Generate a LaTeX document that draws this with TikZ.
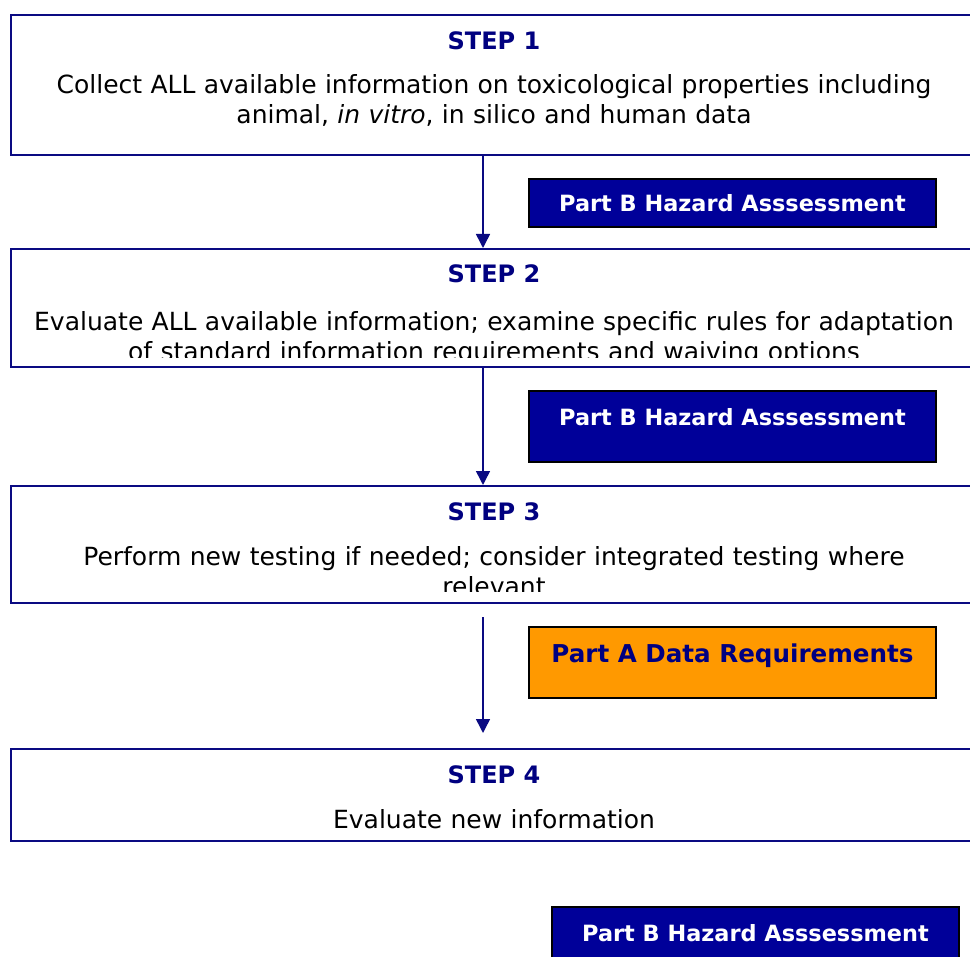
\documentclass[tikz,border=0pt]{standalone}
\usepackage{fontspec}
\setmainfont{DejaVu Sans}
\usetikzlibrary{%
        arrows.meta,
        positioning
    }
\definecolor{navyline}{RGB}{10, 10, 130}
\definecolor{stepblue}{RGB}{0, 0, 128}
\definecolor{hazardblue}{RGB}{0, 0, 153}
\definecolor{dataorange}{RGB}{255, 153, 0}
\tikzset{%
    stepbox/.style={draw=navyline, line width=1pt, fill=white,
        anchor=north west, minimum width=490pt, inner sep=0pt},
    steptitle/.style={anchor=base, text=stepblue,
        font=\fontsize{12}{15}\selectfont\bfseries},
    steptext/.style={anchor=base, align=center, text width=480pt,
        inner sep=0pt, font=\fontsize{12.5}{15}\selectfont},
    partbox/.style={draw=black, line width=1pt, anchor=north west,
        minimum width=203.5pt, inner sep=0pt},
    hazard/.style={partbox, fill=hazardblue, text=white,
        font=\fontsize{11.2}{13}\selectfont\bfseries},
    data/.style={partbox, fill=dataorange, text=stepblue,
        font=\fontsize{12.3}{14}\selectfont\bfseries},
    flow/.style={draw=navyline, line width=0.75pt,
        -{Triangle[width=7pt, length=7pt]}}
}

\begin{document}
\begin{tikzpicture}[x=0.5pt, y=-0.5pt]

    \useasboundingbox (0, 0) rectangle (970, 957);
    \clip (0, 0) rectangle (970, 957);

    % Step boxes
    \node[stepbox, minimum height=70pt] (step1) at (10, 14) {};
    \node[stepbox, minimum height=59pt] (step2) at (10, 248) {};
    \node[stepbox, minimum height=58.5pt] (step3) at (10, 485) {};
    \node[stepbox, minimum height=46pt] (step4) at (10, 748) {};

    % Step texts
    \node[steptitle] (title1) at (494, 50) {STEP 1};
    \node[steptext] (text1) at (494, 94)
        {Collect ALL available information on toxicological properties including\\
         animal, \textit{in vitro}, in silico and human data};

    \node[steptitle] (title2) at (494, 283) {STEP 2};
    \begin{scope}
        \clip (10, 250) rectangle (970, 358);
        \node[steptext] (text2) at (494, 331)
            {Evaluate ALL available information; examine specific rules for adaptation\\
             of standard information requirements and waiving options};
    \end{scope}

    \node[steptitle] (title3) at (494, 520) {STEP 3};
    \begin{scope}
        \clip (10, 487) rectangle (970, 591);
        \node[steptext] (text3) at (494, 565)
            {Perform new testing if needed; consider integrated testing where\\
             relevant};
    \end{scope}

    \node[steptitle] (title4) at (494, 783) {STEP 4};
    \node[steptext] (text4) at (494, 828) {Evaluate new information};

    % Part boxes
    \node[hazard, text height=16.5pt, text depth=7.5pt] (partb1) at (528, 178)
        {Part B Hazard Asssessment};
    \node[hazard, text height=17pt, text depth=18.5pt] (partb2) at (528, 390)
        {Part B Hazard Asssessment};
    \node[data, text height=17.5pt, text depth=18pt] (parta) at (528, 626)
        {Part A Data Requirements};
    \node[hazard, text height=17pt, text depth=18pt] (partb3) at (551, 906)
        {Part B Hazard Asssessment};

    % Flow
    \coordinate (spine) at (483, 0);
    \coordinate (gapstart) at (483, 617);
    \coordinate (gapend) at (483, 733);
    \draw[flow] (step1.south -| spine) -- (step2.north -| spine);
    \draw[flow] (step2.south -| spine) -- (step3.north -| spine);
    \draw[flow] (gapstart) -- (gapend);

\end{tikzpicture}
\end{document}
